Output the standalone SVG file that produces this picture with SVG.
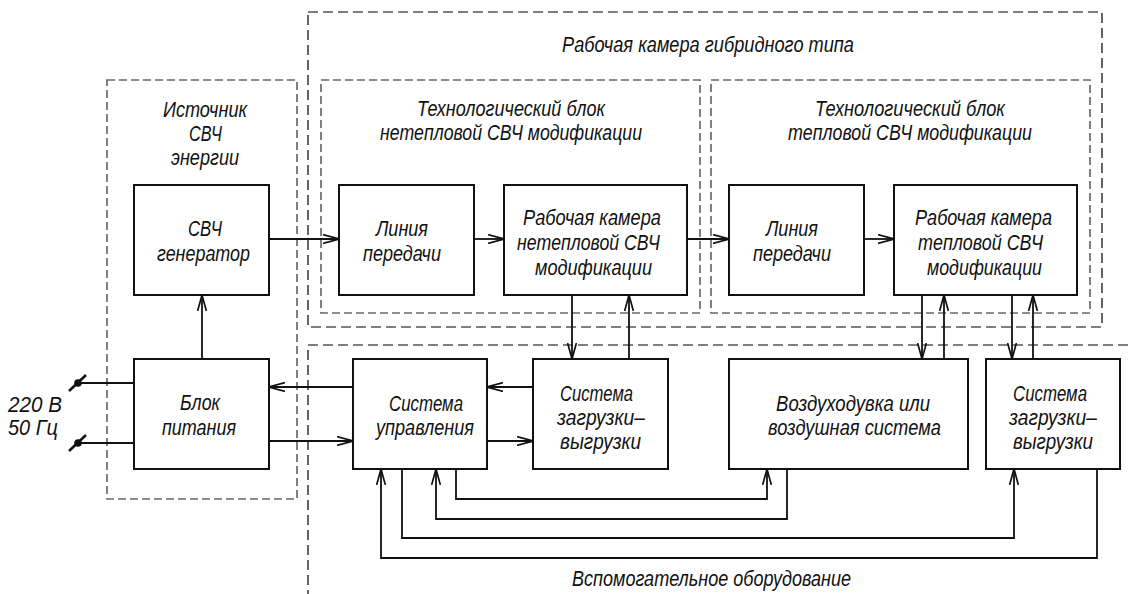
<svg xmlns="http://www.w3.org/2000/svg" width="1128" height="594" viewBox="0 0 1128 594">
<style>
text{font-family:"Liberation Sans","DejaVu Sans",sans-serif;font-style:italic;font-size:22px;fill:#111}
.box{fill:#fff;stroke:#111;stroke-width:2}
.dg{fill:none;stroke:#6a6a6a;stroke-width:1.7;stroke-dasharray:8 4}
.dk{fill:none;stroke:#000;stroke-width:1.2;stroke-dasharray:10 5}
.ln{fill:none;stroke:#111;stroke-width:1.8}
.a{marker-end:url(#arr)}
</style>
<defs>
<marker id="arr" viewBox="0 0 16 10" refX="16" refY="5" markerWidth="16" markerHeight="10" markerUnits="userSpaceOnUse" orient="auto">
<path d="M0,0.6 L16,5 L0,9.4" fill="none" stroke="#111" stroke-width="1.7"/>
</marker>
</defs>

<g id="hybrid-chamber">
<rect class="dk" x="308" y="12" width="794" height="315"/>
<text x="562" y="52" textLength="292" lengthAdjust="spacingAndGlyphs">Рабочая камера гибридного типа</text>
</g>
<g id="source">
<rect class="dg" x="107" y="80" width="190" height="419"/>
<text x="163" y="117" textLength="84" lengthAdjust="spacingAndGlyphs">Источник</text>
<text x="189" y="141" textLength="33" lengthAdjust="spacingAndGlyphs">СВЧ</text>
<text x="171" y="165" textLength="68" lengthAdjust="spacingAndGlyphs">энергии</text>
</g>
<g id="tech-block-1">
<rect class="dg" x="321" y="80" width="379" height="233"/>
<text x="417" y="116" textLength="188" lengthAdjust="spacingAndGlyphs">Технологический блок</text>
<text x="380" y="140" textLength="262" lengthAdjust="spacingAndGlyphs">нетепловой СВЧ модификации</text>
</g>
<g id="tech-block-2">
<rect class="dg" x="711" y="80" width="379" height="233"/>
<text x="815" y="116" textLength="190" lengthAdjust="spacingAndGlyphs">Технологический блок</text>
<text x="788" y="140" textLength="244" lengthAdjust="spacingAndGlyphs">тепловой СВЧ модификации</text>
</g>
<g id="auxiliary">
<path class="dk" d="M1128,345 H308 V594"/>
<text x="572" y="586" textLength="279" lengthAdjust="spacingAndGlyphs">Вспомогательное оборудование</text>
</g>

<g id="generator">
<rect class="box" x="134" y="185" width="135" height="110"/>
<text x="188" y="236" textLength="34" lengthAdjust="spacingAndGlyphs">СВЧ</text>
<text x="157" y="261" textLength="93" lengthAdjust="spacingAndGlyphs">генератор</text>
</g>
<g id="power">
<rect class="box" x="134" y="359" width="135" height="110"/>
<text x="180" y="410" textLength="40" lengthAdjust="spacingAndGlyphs">Блок</text>
<text x="162" y="435" textLength="74" lengthAdjust="spacingAndGlyphs">питания</text>
</g>
<g id="line-1">
<rect class="box" x="339" y="185" width="135" height="110"/>
<text x="376" y="236" textLength="52" lengthAdjust="spacingAndGlyphs">Линия</text>
<text x="363" y="261" textLength="78" lengthAdjust="spacingAndGlyphs">передачи</text>
</g>
<g id="chamber-1">
<rect class="box" x="504" y="185" width="183" height="110"/>
<text x="523" y="225" textLength="138" lengthAdjust="spacingAndGlyphs">Рабочая камера</text>
<text x="517" y="250" textLength="143" lengthAdjust="spacingAndGlyphs">нетепловой СВЧ</text>
<text x="535" y="275" textLength="117" lengthAdjust="spacingAndGlyphs">модификации</text>
</g>
<g id="line-2">
<rect class="box" x="729" y="185" width="135" height="110"/>
<text x="766" y="236" textLength="52" lengthAdjust="spacingAndGlyphs">Линия</text>
<text x="753" y="261" textLength="78" lengthAdjust="spacingAndGlyphs">передачи</text>
</g>
<g id="chamber-2">
<rect class="box" x="894" y="185" width="183" height="110"/>
<text x="915" y="225" textLength="137" lengthAdjust="spacingAndGlyphs">Рабочая камера</text>
<text x="918" y="250" textLength="125" lengthAdjust="spacingAndGlyphs">тепловой СВЧ</text>
<text x="927" y="275" textLength="115" lengthAdjust="spacingAndGlyphs">модификации</text>
</g>
<g id="control">
<rect class="box" x="353" y="359" width="134" height="110"/>
<text x="389" y="411" textLength="74" lengthAdjust="spacingAndGlyphs">Система</text>
<text x="376" y="435" textLength="98" lengthAdjust="spacingAndGlyphs">управления</text>
</g>
<g id="loading-1">
<rect class="box" x="533" y="359" width="135" height="110"/>
<text x="560" y="401" textLength="73" lengthAdjust="spacingAndGlyphs">Система</text>
<text x="557" y="425" textLength="88" lengthAdjust="spacingAndGlyphs">загрузки–</text>
<text x="560" y="449" textLength="81" lengthAdjust="spacingAndGlyphs">выгрузки</text>
</g>
<g id="blower">
<rect class="box" x="729" y="359" width="239" height="110"/>
<text x="776" y="411" textLength="154" lengthAdjust="spacingAndGlyphs">Воздуходувка или</text>
<text x="768" y="435" textLength="173" lengthAdjust="spacingAndGlyphs">воздушная система</text>
</g>
<g id="loading-2">
<rect class="box" x="986" y="359" width="134" height="110"/>
<text x="1013" y="401" textLength="74" lengthAdjust="spacingAndGlyphs">Система</text>
<text x="1009" y="425" textLength="88" lengthAdjust="spacingAndGlyphs">загрузки–</text>
<text x="1013" y="449" textLength="80" lengthAdjust="spacingAndGlyphs">выгрузки</text>
</g>
<g id="mains">
<circle cx="78" cy="383" r="3.8" fill="#111"/>
<line x1="69" y1="391" x2="86" y2="375" stroke="#111" stroke-width="2.6"/>
<circle cx="78" cy="443" r="3.8" fill="#111"/>
<line x1="69" y1="451" x2="86" y2="435" stroke="#111" stroke-width="2.6"/>
<text x="8" y="412" textLength="54" lengthAdjust="spacingAndGlyphs">220 В</text>
<text x="8" y="435" textLength="50" lengthAdjust="spacingAndGlyphs">50 Гц</text>
</g>

<g id="connectors">
<path class="ln" d="M78,383 H134"/>
<path class="ln" d="M78,443 H134"/>
<path class="ln a" d="M269,239 H339"/>
<path class="ln a" d="M474,239 H504"/>
<path class="ln a" d="M687,239 H729"/>
<path class="ln a" d="M864,239 H894"/>
<path class="ln a" d="M202,359 V295"/>
<path class="ln a" d="M353,387 H269"/>
<path class="ln a" d="M269,441 H353"/>
<path class="ln a" d="M533,387 H487"/>
<path class="ln a" d="M487,441 H533"/>
<path class="ln a" d="M572,295 V359"/>
<path class="ln a" d="M629,359 V295"/>
<path class="ln a" d="M922,295 V359"/>
<path class="ln a" d="M944,359 V295"/>
<path class="ln a" d="M1012,295 V359"/>
<path class="ln a" d="M1033,359 V295"/>
<path class="ln a" d="M456,469 V499 H767 V469"/>
<path class="ln a" d="M787,469 V519 H436 V469"/>
<path class="ln a" d="M402,469 V538 H1014 V469"/>
<path class="ln a" d="M1097,469 V558 H381 V469"/>
</g>
</svg>
